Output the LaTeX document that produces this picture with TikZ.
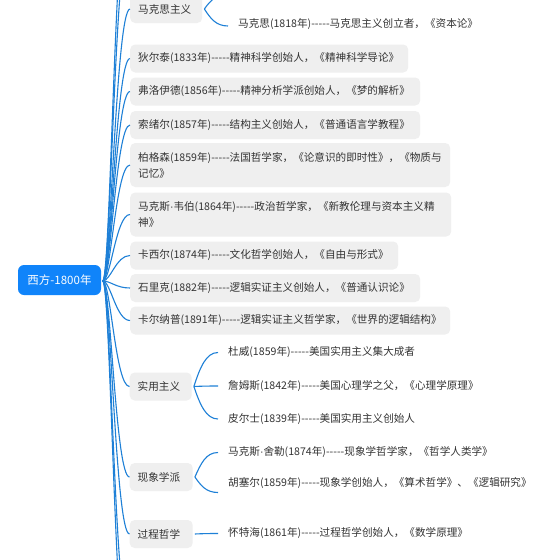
\documentclass[tikz,border=0pt]{standalone}
\usepackage{fontspec}
\newfontfamily\cjk{Noto Sans CJK SC}
\newfontfamily\latin{Liberation Sans}
\usetikzlibrary{calc}
\definecolor{rootblue}{RGB}{16,132,250}
\definecolor{linkblue}{RGB}{30,128,215}
\definecolor{boxgray}{RGB}{239,239,239}
\definecolor{txt}{RGB}{51,51,51}
\newcommand\mdot{{\latin ·}}
\tikzset{
  topic/.style={fill=boxgray, rounded corners=5pt, anchor=west, inner xsep=8pt, inner ysep=0pt,
    align=left, text=txt, font=\cjk\fontsize{10.6}{16}\selectfont, minimum height=28pt},
  tall/.style={minimum height=44pt},
  leaf/.style={anchor=west, inner xsep=10pt, inner ysep=2pt, text=txt, font=\cjk\fontsize{10.6}{16}\selectfont},
  rootbox/.style={fill=rootblue, text=white, rounded corners=6pt, minimum width=83pt,
    minimum height=30pt, inner sep=0pt, font=\cjk\fontsize{11.5}{14}\selectfont},
  link/.style={draw=linkblue, line width=1.1pt},
}
\newcommand\rootlink[1]{\draw[link] (R0) .. controls ($(R0)+(8pt,0pt)$) and ($(#1)+(-14pt,0pt)$) .. (#1);}
\newcommand\sublink[2]{\draw[link] let \p1=($(#1.east)+(2pt,0pt)$), \p2=(#2) in
  (\p1) .. controls (\x1+6pt,{\y1+0.55*(\y2-\y1)}) and (\x2-12pt,\y2) .. (\p2);}
\begin{document}
\begin{tikzpicture}[x=1pt,y=-1pt]
\useasboundingbox (0,0) rectangle (560,560);
\clip (0,0) rectangle (560,560);
\fill[white] (0,0) rectangle (560,560);

\node[rootbox] (root) at (59.5,280) {西方-1800年};
\coordinate (R0) at ($(root.east)+(1.5pt,-1pt)$);

\node[topic, text width=56pt] (marx) at (130,9) {\mbox{马克思主义}};
\node[topic, text width=262pt] (dil) at (130,58.5) {\mbox{狄尔泰(1833年)-----精神科学创始人，《精神科学导论》}};
\node[topic, text width=274pt] (fre) at (130,91.5) {\mbox{弗洛伊德(1856年)-----精神分析学派创始人，《梦的解析》}};
\node[topic, text width=274pt] (sau) at (130,125) {\mbox{索绪尔(1857年)-----结构主义创始人，《普通语言学教程》}};
\node[topic, tall, text width=304pt] (ber) at (130,165) {\mbox{柏格森(1859年)-----法国哲学家，《论意识的即时性》，《物质与}\\\mbox{记忆》}};
\node[topic, tall, text width=305pt] (web) at (130,214.5) {\mbox{马克斯\mdot 韦伯(1864年)-----政治哲学家，《新教伦理与资本主义精}\\\mbox{神》}};
\node[topic, text width=252pt] (cas) at (130,255.5) {\mbox{卡西尔(1874年)-----文化哲学创始人，《自由与形式》}};
\node[topic, text width=274pt] (sch) at (130,288) {\mbox{石里克(1882年)-----逻辑实证主义创始人，《普通认识论》}};
\node[topic, text width=304pt] (car) at (130,320.5) {\mbox{卡尔纳普(1891年)-----逻辑实证主义哲学家，《世界的逻辑结构》}};
\node[topic, text width=46pt] (prag) at (129.5,386.5) {\mbox{实用主义}};
\node[topic, text width=47pt] (phen) at (129.5,477) {\mbox{现象学派}};
\node[topic, text width=47pt] (proc) at (129.5,534) {\mbox{过程哲学}};

\coordinate (up1) at (129,-60);
\coordinate (up2) at (129,-110);
\coordinate (dn1) at (129,620);
\coordinate (dn2) at (129,670);

\rootlink{up2}
\rootlink{up1}
\rootlink{marx.west}
\rootlink{dil.west}
\rootlink{fre.west}
\rootlink{sau.west}
\rootlink{ber.west}
\rootlink{web.west}
\rootlink{cas.west}
\rootlink{sch.west}
\rootlink{car.west}
\rootlink{prag.west}
\rootlink{phen.west}
\rootlink{proc.west}
\rootlink{dn1}
\rootlink{dn2}

% leaves
\coordinate (marx0) at (230,-7);
\node[leaf] (marx1) at (228,24.5) {马克思(1818年)-----马克思主义创立者，《资本论》};
\node[leaf] (dew) at (218,352.5) {杜威(1859年)-----美国实用主义集大成者};
\node[leaf] (jam) at (218,386) {詹姆斯(1842年)-----美国心理学之父，《心理学原理》};
\node[leaf] (pei) at (218,419) {皮尔士(1839年)-----美国实用主义创始人};
\node[leaf] (she) at (218,452.5) {马克斯\mdot 舍勒(1874年)-----现象学哲学家，《哲学人类学》};
\node[leaf] (hus) at (218,483.5) {胡塞尔(1859年)-----现象学创始人，《算术哲学》、《逻辑研究》};
\node[leaf] (whi) at (218,533.5) {怀特海(1861年)-----过程哲学创始人，《数学原理》};

\sublink{marx}{marx0}
\sublink{marx}{$(marx1.west)+(0pt,-1.5pt)$}
\sublink{prag}{dew.west}
\sublink{prag}{jam.west}
\sublink{prag}{pei.west}
\sublink{phen}{she.west}
\sublink{phen}{$(hus.west)+(0pt,-9pt)$}
\sublink{proc}{whi.west}
\end{tikzpicture}
\end{document}
